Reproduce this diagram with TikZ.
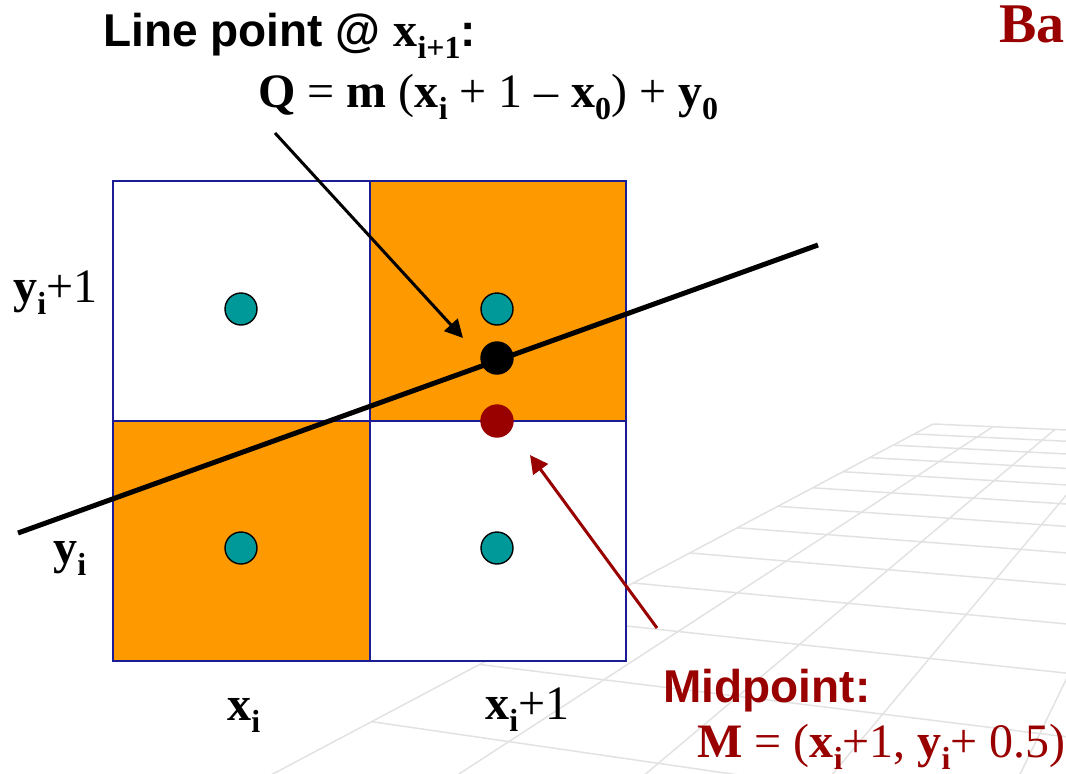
\documentclass[tikz,border=0pt]{standalone}
\usepackage{fontspec}
\setmainfont{Liberation Serif}
\newfontfamily\arialfont{Liberation Sans}
\usepackage{tikz}
\usetikzlibrary{arrows.meta}

\definecolor{cellorange}{HTML}{FF9900}
\definecolor{cellblue}{HTML}{1C1C94}
\definecolor{dotteal}{HTML}{009999}
\definecolor{darkred}{HTML}{990000}
\definecolor{floorgray}{HTML}{E2E2E2}

\newcommand{\sanstxt}{\arialfont\bfseries\fontsize{23}{27}\selectfont}
\newcommand{\sertxt}{\rmfamily\mdseries\fontsize{24}{28}\selectfont}
\newcommand{\sub}[1]{\raisebox{-0.25em}{\fontsize{16}{16}\selectfont\bfseries #1}}

\tikzset{
  declare function={
    hw(\u,\v)=1-0.01563*\u-0.0515*\v;
    hx(\u,\v)=(933+44.48*\u-65.92*\v)/hw(\u,\v);
    hy(\u,\v)=(424-3.97*\u-12.36*\v)/hw(\u,\v);
  },
  floor/.style={floorgray, line width=0.75pt},
  cell/.style={draw=cellblue, line width=1pt},
  dot/.style={circle, inner sep=0pt, minimum size=16pt, draw=black, line width=0.7pt},
  txt/.style={inner sep=0pt, anchor=base west},
}

\begin{document}
\begin{tikzpicture}[x=0.5pt,y=-0.5pt]
    \useasboundingbox (0,0) rectangle (1066,773);

    % perspective floor in the background
    \begin{scope}
    \clip (0,0) rectangle (1066,773);
    \foreach \v in {0,...,14}
        \draw[floor] ({hx(0,\v)},{hy(0,\v)}) -- ({hx(8,\v)},{hy(8,\v)});
    \foreach \u in {0,...,8}
        \draw[floor] ({hx(\u,0)},{hy(\u,0)}) -- ({hx(\u,14)},{hy(\u,14)});
    \end{scope}

    % pixel cells
    \draw[cell, fill=white] (113,181) -- ++ (257,0) -- ++ (0,240) -- ++ (-257,0) -- cycle;
    \draw[cell, fill=cellorange] (370,181) -- ++ (256,0) -- ++ (0,240) -- ++ (-256,0) -- cycle;
    \draw[cell, fill=cellorange] (113,421) -- ++ (257,0) -- ++ (0,240) -- ++ (-257,0) -- cycle;
    \draw[cell, fill=white] (370,421) -- ++ (256,0) -- ++ (0,240) -- ++ (-256,0) -- cycle;

    % the line
    \coordinate (lnA) at (18,533);
    \coordinate (lnB) at (818,245);
    \draw[line width=2.5pt] (lnA) -- (lnB);

    \node[dot, fill=dotteal] (p00) at (241,548) {};
    \node[dot, fill=dotteal] (p10) at (497,548) {};
    \node[dot, fill=dotteal] (p01) at (241,309) {};
    \node[dot, fill=dotteal] (p11) at (497,309) {};
    \node[dot, fill=black] (qdot) at (497,358) {};
    \node[dot, fill=darkred, draw=darkred] (mdot) at (497,421) {};

    % labels
    \node[txt] (title) at (999,42) {\fontsize{28}{32}\selectfont\bfseries\color{darkred}Ba};
    \node[txt] (qhead) at (103,46) {\sanstxt Line point @ \sertxt\textbf{x}\sub{i+1}\sanstxt:};
    \node[txt] (qform) at (258,107) {\sertxt\textbf{Q} = \textbf{m} (\textbf{x}\sub{i} + 1 -- \textbf{x}\sub{0}) + \textbf{y}\sub{0}};
    \node[txt] (yup) at (13,302) {\sertxt\textbf{y}\sub{i}+1};
    \node[txt] (ylow) at (53,563) {\sertxt\textbf{y}\sub{i}};
    \node[txt] (xleft) at (227,720) {\sertxt\textbf{x}\sub{i}};
    \node[txt] (xright) at (485,719) {\sertxt\textbf{x}\sub{i}+1};
    \node[txt, darkred] (mhead) at (663,702) {\sanstxt Midpoint:};
    \node[txt, darkred] (mform) at (697,757) {\sertxt\textbf{M} = (\textbf{x}\sub{i}+1, \textbf{y}\sub{i}+ 0.5)};

    % arrows
    \coordinate (qtail) at (275,133);
    \coordinate (qtip) at (463,338);
    \coordinate (mtail) at (657,628);
    \coordinate (mtip) at (530,455);
    \draw[line width=1.5pt, -{Triangle[length=9pt,width=9pt]}] (qtail) -- (qtip);
    \draw[darkred, line width=1.5pt, -{Triangle[length=9pt,width=9pt]}] (mtail) -- (mtip);
\end{tikzpicture}
\end{document}
